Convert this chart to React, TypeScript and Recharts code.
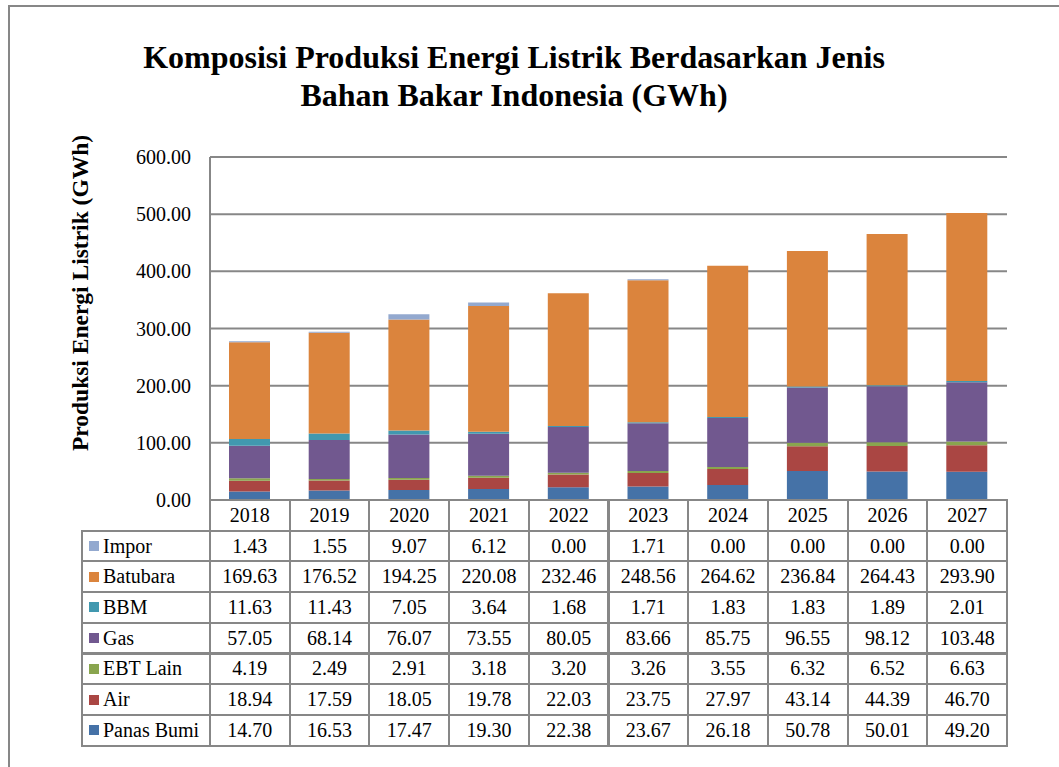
import React from 'react'
import { Bar, BarChart, CartesianGrid, XAxis, YAxis } from 'recharts'

// Stacked Excel-style column chart with a data table underneath.

const years = ['2018', '2019', '2020', '2021', '2022', '2023', '2024', '2025', '2026', '2027']
const panasBumi = [14.7, 16.53, 17.47, 19.3, 22.38, 23.67, 26.18, 50.78, 50.01, 49.2]
const air = [18.94, 17.59, 18.05, 19.78, 22.03, 23.75, 27.97, 43.14, 44.39, 46.7]
const ebtLain = [4.19, 2.49, 2.91, 3.18, 3.2, 3.26, 3.55, 6.32, 6.52, 6.63]
const gas = [57.05, 68.14, 76.07, 73.55, 80.05, 83.66, 85.75, 96.55, 98.12, 103.48]
const bbm = [11.63, 11.43, 7.05, 3.64, 1.68, 1.71, 1.83, 1.83, 1.89, 2.01]
const batubara = [169.63, 176.52, 194.25, 220.08, 232.46, 248.56, 264.62, 236.84, 264.43, 293.9]
const impor = [1.43, 1.55, 9.07, 6.12, 0.0, 1.71, 0.0, 0.0, 0.0, 0.0]
const yTicks = [0, 100, 200, 300, 400, 500, 600]

// bottom -> top stacking order
const series = [
  { key: 'panasBumi', name: 'Panas Bumi', values: panasBumi, color: '#4572A7' },
  { key: 'air', name: 'Air', values: air, color: '#AA4643' },
  { key: 'ebtLain', name: 'EBT Lain', values: ebtLain, color: '#89A54E' },
  { key: 'gas', name: 'Gas', values: gas, color: '#71588F' },
  { key: 'bbm', name: 'BBM', values: bbm, color: '#4198AF' },
  { key: 'batubara', name: 'Batubara', values: batubara, color: '#DB843D' },
  { key: 'impor', name: 'Impor', values: impor, color: '#93A9CF' },
]

const data = years.map((year, i) => {
  const row: Record<string, string | number> = { year }
  series.forEach((s) => (row[s.key] = s.values[i]))
  return row
})

const W = 1059
const H = 767
const PLOT_L = 210
const PLOT_R = 1007
const PLOT_T = 157
const PLOT_B = 500
const COL_W = (PLOT_R - PLOT_L) / years.length
const ROW_H = 30.7
const LABEL_L = 82
const GRID = '#878787'
const FONT = 'Liberation Serif'

function Cell({ x, y, w, children, align = 'center' }: { x: number; y: number; w: number; children?: React.ReactNode; align?: 'center' | 'left' }) {
  return (
    <div
      style={{
        position: 'absolute',
        left: x - 1,
        top: y - 1,
        width: w + 2,
        height: ROW_H + 2,
        boxSizing: 'border-box',
        border: `2px solid ${GRID}`,
        display: 'flex',
        alignItems: 'center',
        justifyContent: align === 'center' ? 'center' : 'flex-start',
        fontFamily: FONT,
        fontSize: 20,
        color: '#000',
        whiteSpace: 'nowrap',
      }}
    >
      {children}
    </div>
  )
}

function DataTable() {
  const rows = [...series].reverse()
  return (
    <>
      {years.map((y, i) => (
        <Cell key={y} x={PLOT_L + i * COL_W} y={PLOT_B} w={COL_W}>
          {y}
        </Cell>
      ))}
      {rows.map((s, r) => {
        const top = PLOT_B + (r + 1) * ROW_H
        return (
          <React.Fragment key={s.key}>
            <Cell x={LABEL_L} y={top} w={PLOT_L - LABEL_L} align="left">
              <span style={{ display: 'inline-block', width: 10, height: 10, background: s.color, marginLeft: 6, marginRight: 4 }} />
              {s.name}
            </Cell>
            {s.values.map((v, i) => (
              <Cell key={i} x={PLOT_L + i * COL_W} y={top} w={COL_W}>
                {v.toFixed(2)}
              </Cell>
            ))}
          </React.Fragment>
        )
      })}
    </>
  )
}

export default function App() {
  return (
    <div style={{ position: 'absolute', left: 0, top: 0, width: W, height: H, overflow: 'hidden', background: '#fff' }}>
      <div style={{ position: 'absolute', left: 8, top: 5, width: W + 50, height: H + 50, border: `2px solid ${GRID}` }} />
      <div style={{ position: 'absolute', left: 0, top: 0 }}>
        <BarChart
          width={W}
          height={H}
          data={data}
          margin={{ top: PLOT_T, right: W - PLOT_R, bottom: H - PLOT_B, left: 10 }}
        >
          <CartesianGrid horizontal vertical={false} stroke={GRID} strokeWidth={2} />
          <XAxis dataKey="year" hide />
          <YAxis
            width={PLOT_L - 10}
            domain={[0, 600]}
            ticks={yTicks}
            interval={0}
            tickFormatter={(v: number) => v.toFixed(2)}
            tick={{ fill: '#000', fontSize: 20, fontFamily: FONT }}
            tickLine={false}
            tickMargin={13}
            axisLine={{ stroke: GRID, strokeWidth: 2 }}
          />
          {series.map((s) => (
            <Bar key={s.key} dataKey={s.key} name={s.name} stackId="a" fill={s.color} barSize={41} isAnimationActive={false} />
          ))}
        </BarChart>
      </div>
      <svg width={W} height={H} style={{ position: 'absolute', left: 0, top: 0, pointerEvents: 'none' }}>
        <text x={514} y={68} textAnchor="middle" fontFamily={FONT} fontWeight="bold" fontSize={32}>
          Komposisi Produksi Energi Listrik Berdasarkan Jenis
        </text>
        <text x={514} y={106} textAnchor="middle" fontFamily={FONT} fontWeight="bold" fontSize={32}>
          Bahan Bakar Indonesia (GWh)
        </text>
        <text
          x={0}
          y={0}
          transform="translate(80, 293) rotate(-90)"
          textAnchor="middle"
          dominantBaseline="central"
          fontFamily={FONT}
          fontWeight="bold"
          fontSize={23.5}
        >
          Produksi Energi Listrik (GWh)
        </text>
      </svg>
      <DataTable />
    </div>
  )
}
